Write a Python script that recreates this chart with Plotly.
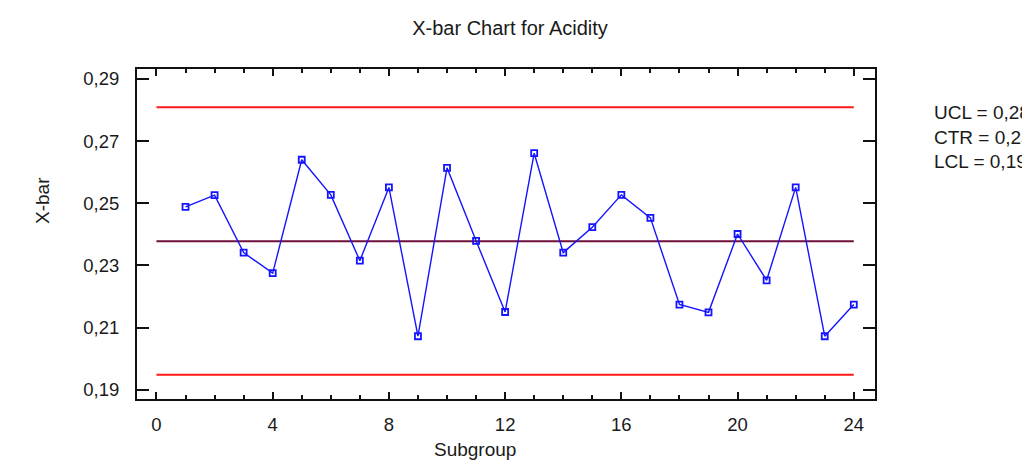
import plotly.graph_objects as go

# ---- data ----
subgroups = list(range(1, 25))
xbar = [0.2488, 0.2526, 0.2341, 0.2275, 0.2640, 0.2527, 0.2315, 0.2551,
        0.2072, 0.2614, 0.2379, 0.2150, 0.2661, 0.2341, 0.2423, 0.2527,
        0.2453, 0.2174, 0.2149, 0.2401, 0.2252, 0.2551, 0.2072, 0.2174]
limit_names = ["UCL", "CTR", "LCL"]
limit_values = [0.2809, 0.2378, 0.1948]
limit_colors = ["#ff1a1a", "#6e0f3c", "#ff1a1a"]
limit_x = [0, 24]

FONT = "Liberation Sans, Arial, sans-serif"
TXT = "#1a1a1a"

fig = go.Figure()

for name, val, col in zip(limit_names, limit_values, limit_colors):
    fig.add_trace(go.Scatter(
        x=limit_x, y=[val, val], mode="lines",
        line=dict(color=col, width=2), hoverinfo="skip", showlegend=False))

fig.add_trace(go.Scatter(
    x=subgroups, y=xbar, mode="lines+markers",
    line=dict(color="#1414ff", width=1.4),
    marker=dict(symbol="square-open", size=6, color="#1414ff",
                line=dict(width=1.8, color="#1414ff")),
    showlegend=False))

W, H = 1022, 461
L, R, T, B = 137, 875, 69, 399

def px_to_paper_x(px):
    return (px - L) / (R - L)

def px_to_paper_y(py):
    return (B - py) / (B - T)

annotations = []
label_y_px = [112.8, 137.5, 161.7]
for name, val, ypx in zip(limit_names, limit_values, label_y_px):
    annotations.append(dict(
        text=f"{name} = " + f"{val:.4f}".replace(".", ","),
        xref="paper", yref="paper", x=px_to_paper_x(932), y=px_to_paper_y(ypx),
        xanchor="left", yanchor="middle", showarrow=False,
        font=dict(family=FONT, size=19, color=TXT)))

annotations.append(dict(
    text="X-bar", textangle=-90, xref="paper", yref="paper",
    x=px_to_paper_x(42), y=px_to_paper_y(201), xanchor="center", yanchor="middle",
    showarrow=False, font=dict(family=FONT, size=19, color=TXT)))
annotations.append(dict(
    text="Subgroup", xref="paper", yref="paper",
    x=px_to_paper_x(475), y=px_to_paper_y(449), xanchor="center", yanchor="middle",
    showarrow=False, font=dict(family=FONT, size=19, color=TXT)))

fig.update_layout(
    width=W, height=H,
    margin=dict(l=L, r=W - R, t=T, b=H - B, pad=0),
    paper_bgcolor="white", plot_bgcolor="white",
    separators=",.",
    title=dict(text="X-bar Chart for Acidity", xref="container", yref="container",
               x=510 / W, y=1 - 28 / H, xanchor="center", yanchor="middle",
               font=dict(family=FONT, size=20, color=TXT)),
    annotations=annotations,
    font=dict(family=FONT, size=19, color=TXT),
)

fig.update_xaxes(
    range=[-0.67, 24.73], tick0=0, dtick=4, ticks="inside", ticklen=7,
    tickwidth=1.5, tickcolor="#111", showline=True, linecolor="#111", linewidth=2,
    mirror="allticks", showgrid=False, zeroline=False, ticklabelstandoff=8,
    tickfont=dict(family=FONT, size=18.5, color=TXT),
    minor=dict(ticks="inside", ticklen=4, dtick=1, tick0=0, tickwidth=1.5,
               tickcolor="#111", showgrid=False))

fig.update_yaxes(
    range=[0.1870, 0.2932], tick0=0.19, dtick=0.02, tickformat=".2f",
    ticks="inside", ticklen=12, tickwidth=1.5, tickcolor="#111",
    showline=True, linecolor="#111", linewidth=2, mirror="allticks",
    showgrid=False, zeroline=False, ticklabelstandoff=12,
    tickfont=dict(family=FONT, size=18.5, color=TXT))

fig.write_html("out.html")
